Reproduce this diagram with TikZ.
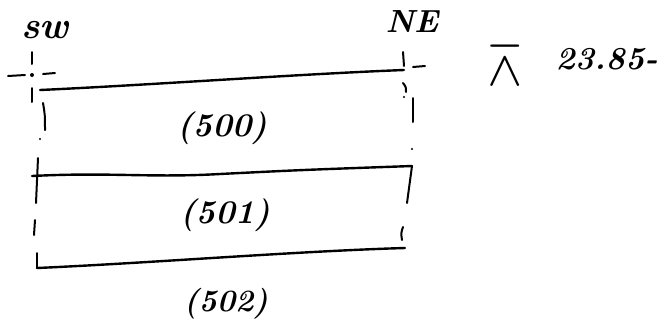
\documentclass[tikz,border=0pt]{standalone}
\usepackage{amsmath}
\usepackage{amssymb}
\usepackage{tikz}

\begin{document}
\begin{tikzpicture}[x=1pt,y=-1pt,line cap=round,
    pen/.style={line width=2.4pt},
    tick/.style={line width=2pt},
    hand/.style={font=\fontsize{#1}{#1}\selectfont\bfseries\itshape,inner sep=0pt}]
      \useasboundingbox (0,0) rectangle (663,325);

      % corners
      \coordinate (sw) at (32,75);
      \coordinate (ne) at (404,70);
      \node[hand=38] (swlbl) at (45,30) {sw};
      \node[hand=32] (nelbl) at (412,22) {NE};

      \fill (sw) circle (2pt);
      \draw[tick] (32,52) -- (32,64);
      \draw[tick] (8,76) -- (25,75);
      \draw[tick] (43,74) -- (55,73);
      \draw[tick] (403,52) -- (404,66);
      \draw[tick] (413,67) -- (425,66);

      % strip boundaries
      \coordinate (a1) at (40,90);   \coordinate (a2) at (ne);
      \coordinate (b1) at (32,176);  \coordinate (b2) at (412,166);
      \coordinate (c1) at (37,268);  \coordinate (c2) at (405,248);
      \draw[pen] (a1) .. controls (150,85) and (300,74) .. (a2);
      \draw[pen] (b1) .. controls (110,172) and (150,178) .. (220,174)
                 .. controls (300,170) .. (b2);
      \draw[pen] (c1) .. controls (150,263) and (300,251) .. (c2);

      % side marks, west
      \draw[tick] (32,88) -- (32,102);
      \draw[tick] (43,103) .. controls (45,115) .. (45,130);
      \fill (40,139) circle (1.2pt);
      \draw[tick] (38,158) -- (36,203);
      \draw[tick] (35,220) -- (34,235);
      \draw[tick] (37,253) -- (c1);

      % side marks, east
      \draw[tick] (403,83) .. controls (406,87) .. (406,92);
      \fill (404,97) circle (1.2pt);
      \draw[tick] (413,98) -- (413,122);
      \fill (412,149) circle (1.2pt);
      \draw[tick] (b2) -- (407,203);
      \draw[tick] (403,227) .. controls (401,233) .. (402,240);

      % numbers
      \node[hand=33] (s500) at (222,128) {(500)};
      \node[hand=33] (s501) at (225,215) {(501)};
      \node[hand=31] (s502) at (226,304) {(502)};

      \node[font=\fontsize{58}{58}\selectfont] (bm) at (505,72) {$\barwedge$};
      \node[hand=32,anchor=east] (elev) at (658,59) {\scalebox{1.02}[1]{23.85-}};
\end{tikzpicture}
\end{document}
